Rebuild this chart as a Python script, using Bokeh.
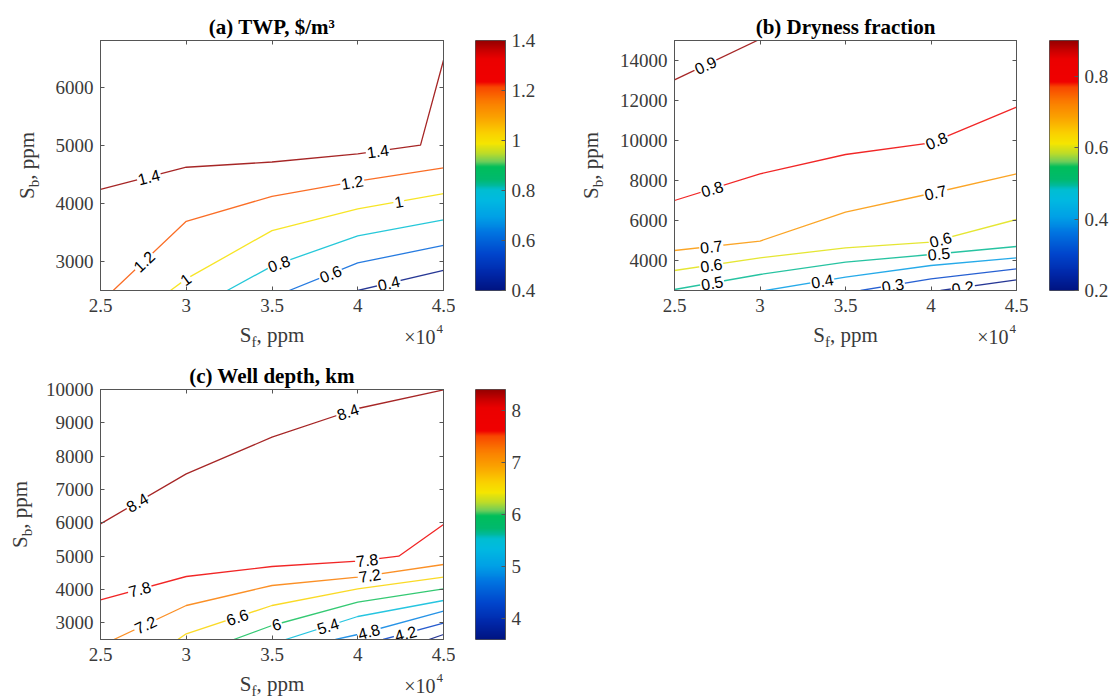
import math
import numpy as np
from bokeh.plotting import figure
from bokeh.models import (ColumnDataSource, LinearColorMapper, FixedTicker, LinearAxis,
                          Range1d, CustomJSTickFormatter)
from bokeh.transform import linear_cmap
from bokeh.layouts import row, column
from bokeh.core.properties import value
from bokeh.embed import file_html
from bokeh.resources import INLINE

# ------------------------------------------------------------------ data
sf_ticks = [25000, 30000, 35000, 40000, 45000]
sf_tick_labels = ["2.5", "3", "3.5", "4", "4.5"]

# (a) TWP, $/m3
a_levels = [1.4, 1.2, 1.0, 0.8, 0.6, 0.4]
a_sf = [
    [25000, 30000, 35000, 40000, 43660, 45000],
    [25740, 30000, 35000, 40000, 45000],
    [29080, 30000, 35000, 40000, 45000],
    [32390, 35000, 40000, 45000],
    [36000, 40000, 45000],
    [40000, 45000],
]
a_sb = [
    [4240, 4620, 4710, 4850, 5000, 6460],
    [2500, 3690, 4120, 4380, 4610],
    [2500, 2700, 3530, 3905, 4165],
    [2500, 2920, 3440, 3715],
    [2500, 2975, 3275],
    [2500, 2845],
]
a_label_level = [1.4, 1.4, 1.2, 1.2, 1.0, 1.0, 0.8, 0.6, 0.4]
a_label_sf = [27820, 41170, 27530, 39680, 29960, 42390, 35400, 38410, 41810]
a_yticks = [3000, 4000, 5000, 6000]
a_ylim = (2500, 6800)
a_clim = (0.4, 1.4)
a_cticks = [0.4, 0.6, 0.8, 1.0, 1.2, 1.4]
a_ctick_labels = ["0.4", "0.6", "0.8", "1", "1.2", "1.4"]

# (b) Dryness fraction
b_levels = [0.9, 0.8, 0.7, 0.6, 0.5, 0.4, 0.3, 0.2]
b_sf = [
    [25000, 29840],
    [25000, 30000, 35000, 40000, 45000],
    [25000, 30000, 35000, 40000, 45000],
    [25000, 30000, 35000, 40000, 45000],
    [25000, 30000, 35000, 40000, 45000],
    [30320, 35000, 40000, 45000],
    [35880, 40000, 45000],
    [40560, 45000],
]
b_sb = [
    [13030, 15000],
    [7000, 8330, 9300, 9880, 11670],
    [4500, 4970, 6420, 7350, 8330],
    [3500, 4130, 4630, 4920, 6050],
    [2550, 3300, 3920, 4300, 4700],
    [2500, 3170, 3750, 4130],
    [2500, 3080, 3580],
    [2500, 3030],
]
b_label_level = [0.9, 0.8, 0.8, 0.7, 0.7, 0.6, 0.6, 0.5, 0.5, 0.4, 0.3, 0.2]
b_label_sf = [26810, 27200, 40320, 27150, 40260, 27150, 40560, 27200, 40460, 33640, 37770, 41860]
b_yticks = [4000, 6000, 8000, 10000, 12000, 14000]
b_ylim = (2500, 15000)
b_clim = (0.2, 0.9)
b_cticks = [0.2, 0.4, 0.6, 0.8]
b_ctick_labels = ["0.2", "0.4", "0.6", "0.8"]

# (c) Well depth, km
c_levels = [8.4, 7.8, 7.2, 6.6, 6.0, 5.4, 4.8, 4.2, 3.6]
c_sf = [
    [25000, 30000, 35000, 40000, 45000],
    [25000, 30000, 35000, 40000, 42390, 45000],
    [25780, 30000, 35000, 40000, 45000],
    [29510, 30000, 35000, 40000, 45000],
    [32770, 35000, 40000, 45000],
    [35790, 40000, 45000],
    [38700, 40000, 45000],
    [41480, 45000],
    [44150, 45000],
]
c_sb = [
    [5970, 7470, 8570, 9430, 9990],
    [3690, 4390, 4690, 4850, 5000, 5950],
    [2500, 3520, 4120, 4370, 4750],
    [2500, 2670, 3520, 4020, 4370],
    [2500, 2920, 3620, 4020],
    [2500, 3190, 3670],
    [2500, 2650, 3350],
    [2500, 2990],
    [2500, 2650],
]
c_label_level = [8.4, 8.4, 7.8, 7.8, 7.2, 7.2, 6.6, 6.0, 5.4, 4.8, 4.2]
c_label_sf = [27140, 39420, 27290, 40550, 27620, 40700, 32970, 35260, 38260, 40650, 42790]
c_yticks = [3000, 4000, 5000, 6000, 7000, 8000, 9000, 10000]
c_ylim = (2500, 10000)
c_clim = (3.6, 8.4)
c_cticks = [4, 5, 6, 7, 8]
c_ctick_labels = ["4", "5", "6", "7", "8"]

# colormap anchors (jet-like, as in the colour bars)
cmap_pos = [0.0, 0.067, 0.147, 0.227, 0.294, 0.36, 0.40, 0.42, 0.445, 0.495, 0.515,
            0.548, 0.588, 0.628, 0.695, 0.762, 0.816, 0.836, 0.93, 0.963, 1.0]
cmap_rgb = [(0, 20, 130), (0, 40, 170), (0, 70, 205), (0, 115, 225), (0, 160, 230),
            (0, 185, 225), (0, 190, 210), (0, 185, 160), (0, 185, 110), (0, 190, 90),
            (110, 205, 90), (190, 220, 40), (245, 230, 0), (250, 210, 0), (250, 160, 0),
            (250, 120, 0), (248, 70, 0), (240, 0, 0), (235, 0, 0), (200, 0, 0), (150, 0, 0)]

# ------------------------------------------------------------------ style
SERIF = "Liberation Serif"
SANS = "Liberation Sans"
AX_TEXT = "#3a3a3a"
AX_LINE = "#555555"
TICK_SIZE = "19px"
FH = 250
MID = 0.3375   # distance (em) from the alphabetic baseline up to the 'middle' baseline

_t = np.linspace(0, 1, 256)
_rgb = np.array(cmap_rgb, dtype=float)
PALETTE = ["#%02x%02x%02x" % tuple(int(round(np.interp(v, cmap_pos, _rgb[:, k]))) for k in range(3))
           for v in _t]

# Times / Liberation Serif advance widths (em)
WIDTHS = {'S': 0.556, 'b': 0.5, 'f': 0.333, ',': 0.25, ' ': 0.25, 'p': 0.5, 'm': 0.778}


def tw(s, size):
    return sum(WIDTHS[c] for c in s) * size


def fmt(v):
    return "%g" % v


def text_fig(w, h, left=0, right=0, top=0, bottom=0):
    """A bare figure holding axis texts; its ranges are pixels of its own frame."""
    fw, fh = w - left - right, h - top - bottom
    f = figure(width=w, height=h, x_range=Range1d(0, fw), y_range=Range1d(0, fh),
               title=None, x_axis_location=None, y_axis_location=None,
               toolbar_location=None, output_backend="svg", min_border=0,
               min_border_left=left, min_border_right=right, min_border_top=top,
               min_border_bottom=bottom)
    f.outline_line_color = None
    f.background_fill_color = "white"
    f.border_fill_color = "white"
    f.grid.visible = False
    return f


def put(f, x, y, text, size, angle=0.0, align="left"):
    """(x, y) is the point on the alphabetic baseline; drawn with a 'middle' baseline."""
    d = MID * size
    if angle:
        x, y = x - d, y
    else:
        x, y = x, y + d
    f.text(x=[x], y=[y], text=[text], angle=angle, text_font=value(SERIF),
           text_font_size=value(f"{size}px"), text_align=align, text_baseline="middle",
           text_color=AX_TEXT)


def xlabel_fig(w, h, left, right, base, sup_base):
    """x label 'S_f, ppm' centred under the frame, and the x10^4 multiplier."""
    f = text_fig(w, h, left=left, right=right)
    fw = w - left - right
    L = tw("S", 21) + tw("f", 15) + tw(", ppm", 21)
    x0 = fw / 2 - L / 2
    put(f, x0, base, "S", 21)
    put(f, x0 + tw("S", 21), base - 5, "f", 15)
    put(f, x0 + tw("S", 21) + tw("f", 15), base, ", ppm", 21)
    put(f, fw - 8, base - 1, "\u00d710", 20, align="right")
    put(f, fw - 7, sup_base, "4", 13)
    return f


def ylabel_fig(w, h, top, bottom, bx):
    """rotated y label 'S_b, ppm' centred on the frame height."""
    f = text_fig(w, h, top=top, bottom=bottom)
    yc = (h - top - bottom) / 2
    L = tw("S", 21) + tw("b", 15) + tw(", ppm", 21)
    y0 = yc - L / 2
    a = math.pi / 2
    put(f, bx, y0, "S", 21, angle=a)
    put(f, bx + 5, y0 + tw("S", 21), "b", 15, angle=a)
    put(f, bx, y0 + tw("S", 21) + tw("b", 15), ", ppm", 21, angle=a)
    return f


def make_panel(title, levels, sfs, sbs, lab_lvl, lab_sf, ylim, yticks, clim,
               fw, left, top, bottom, right):
    width = left + fw + right
    height = top + FH + bottom
    p = figure(width=width, height=height, x_range=Range1d(25000, 45000),
               y_range=Range1d(*ylim), toolbar_location=None, output_backend="svg",
               min_border_left=left, min_border_right=right, min_border_top=top,
               min_border_bottom=bottom)
    p.grid.visible = False
    p.background_fill_color = "white"
    p.border_fill_color = "white"
    p.outline_line_color = AX_LINE
    p.outline_line_width = 1

    p.title.text = title
    p.title.align = "center"
    p.title.text_font = SERIF
    p.title.text_font_size = "21px"
    p.title.text_font_style = "bold"
    p.title.text_color = "black"
    p.title.standoff = 3

    p.xaxis.ticker = FixedTicker(ticks=sf_ticks)
    p.xaxis.major_label_overrides = dict(zip(sf_ticks, sf_tick_labels))
    p.yaxis.ticker = FixedTicker(ticks=yticks)
    p.yaxis.major_label_overrides = {t: str(t) for t in yticks}
    for ax in (p.xaxis[0], p.yaxis[0]):
        ax.major_tick_in = 4
        ax.major_tick_out = 0
        ax.minor_tick_in = 0
        ax.minor_tick_out = 0
        ax.axis_line_color = AX_LINE
        ax.major_tick_line_color = AX_LINE
        ax.major_label_text_font = SERIF
        ax.major_label_text_font_size = TICK_SIZE
        ax.major_label_text_color = AX_TEXT
    p.xaxis.major_label_standoff = 8
    p.yaxis.major_label_standoff = 7

    # box ticks on top / right
    for loc, tk in (("above", sf_ticks), ("right", yticks)):
        ax = LinearAxis(ticker=FixedTicker(ticks=tk),
                        formatter=CustomJSTickFormatter(code="return ''"),
                        major_tick_in=4, major_tick_out=0, minor_tick_in=0, minor_tick_out=0,
                        major_label_standoff=0, major_label_text_font_size="1px",
                        axis_line_color=AX_LINE, major_tick_line_color=AX_LINE)
        p.add_layout(ax, loc)

    # contour lines
    mapper = linear_cmap("level", PALETTE, clim[0], clim[1])
    src = ColumnDataSource(dict(xs=sfs, ys=sbs, level=levels))
    p.multi_line(xs="xs", ys="ys", source=src, line_color=mapper, line_width=1.3,
                 line_alpha=0.85)

    # contour labels (on the lines, rotated along them)
    sx = fw / 20000.0
    sy = FH / float(ylim[1] - ylim[0])
    lx, ly, la, lt = [], [], [], []
    for lv, x in zip(lab_lvl, lab_sf):
        i = levels.index(lv)
        xs_, ys_ = np.array(sfs[i], float), np.array(sbs[i], float)
        y = float(np.interp(x, xs_, ys_))
        k = int(np.clip(np.searchsorted(xs_, x) - 1, 0, len(xs_) - 2))
        ang = math.atan2((ys_[k + 1] - ys_[k]) * sy, (xs_[k + 1] - xs_[k]) * sx)
        lx.append(x); ly.append(y); la.append(ang); lt.append(fmt(lv))
    lsrc = ColumnDataSource(dict(x=lx, y=ly, angle=la, text=lt))
    p.text(x="x", y="y", text="text", angle="angle", source=lsrc,
           text_font=value(SANS), text_font_size=value("16px"), text_align="center",
           text_baseline="middle", text_color="black",
           background_fill_color="white", padding=1)
    return p


def make_cbar(clim, ticks, labels, left, right, top, bottom):
    p = figure(width=left + 30 + right, height=top + FH + bottom,
               x_range=Range1d(0, 1), y_range=Range1d(*clim), x_axis_location=None,
               y_axis_location="right", toolbar_location=None, output_backend="svg",
               title=None, min_border_left=left, min_border_right=right,
               min_border_top=top, min_border_bottom=bottom)
    p.grid.visible = False
    p.background_fill_color = "white"
    p.border_fill_color = "white"
    p.outline_line_color = AX_LINE
    mapper = LinearColorMapper(palette=PALETTE, low=clim[0], high=clim[1])
    grad = np.linspace(clim[0], clim[1], 256).reshape(256, 1)
    p.image(image=[grad], x=0, y=clim[0], dw=1, dh=clim[1] - clim[0], color_mapper=mapper)
    ax = p.yaxis[0]
    ax.ticker = FixedTicker(ticks=ticks)
    ax.major_label_overrides = dict(zip(ticks, labels))
    ax.major_tick_in = 4
    ax.major_tick_out = 0
    ax.minor_tick_in = 0
    ax.minor_tick_out = 0
    ax.axis_line_color = AX_LINE
    ax.major_tick_line_color = AX_LINE
    ax.major_label_text_font = SERIF
    ax.major_label_text_font_size = TICK_SIZE
    ax.major_label_text_color = AX_TEXT
    ax.major_label_standoff = 6
    return p


# ---------------------------------------------------------------- row 1 (height 352)
fa = make_panel("(a) TWP, $/m\u00b3", a_levels, a_sf, a_sb, a_label_level, a_label_sf,
                a_ylim, a_yticks, a_clim, fw=343, left=55, top=40, bottom=30, right=12)
xla = xlabel_fig(410, 32, left=55, right=12, base=10, sup_base=19)
yla = ylabel_fig(45, 352, top=40, bottom=62, bx=34)
cba = make_cbar(a_clim, a_cticks, a_ctick_labels, left=20, right=59, top=40, bottom=62)

fb = make_panel("(b) Dryness fraction", b_levels, b_sf, b_sb, b_label_level, b_label_sf,
                b_ylim, b_yticks, b_clim, fw=342, left=64, top=40, bottom=30, right=12)
xlb = xlabel_fig(418, 32, left=64, right=12, base=10, sup_base=19)
ylb = ylabel_fig(46, 352, top=40, bottom=62, bx=34)
cbb = make_cbar(b_clim, b_cticks, b_ctick_labels, left=21, right=32, top=40, bottom=62)

# ---------------------------------------------------------------- row 2 (height 347)
fc = make_panel("(c) Well depth, km", c_levels, c_sf, c_sb, c_label_level, c_label_sf,
                c_ylim, c_yticks, c_clim, fw=343, left=60, top=37, bottom=30, right=12)
xlc = xlabel_fig(415, 30, left=60, right=12, base=8, sup_base=17)
ylc = ylabel_fig(40, 347, top=37, bottom=60, bx=27)
cbc = make_cbar(c_clim, c_cticks, c_ctick_labels, left=20, right=59, top=37, bottom=60)

layout = column(
    row(yla, column(fa, xla, spacing=0), cba, ylb, column(fb, xlb, spacing=0), cbb, spacing=0),
    row(ylc, column(fc, xlc, spacing=0), cbc, spacing=0),
    spacing=0,
)

with open("out.html", "w") as f:
    f.write(file_html(layout, INLINE))
